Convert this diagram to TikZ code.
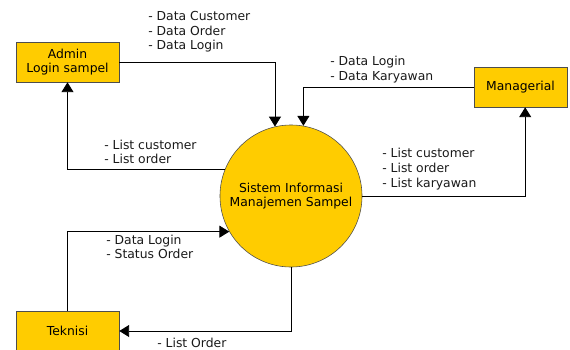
\documentclass[tikz,border=0pt]{standalone}
\usepackage{fontspec}
\setmainfont{DejaVu Sans}
\usetikzlibrary{arrows.meta}

\definecolor{procfill}{HTML}{FFCC00}
\definecolor{edgegray}{HTML}{4D4D4D}

\begin{document}
\begin{tikzpicture}[>={Triangle[width=8.5pt,length=7pt]}, x=0.025cm, y=-0.025cm,
	font=\fontsize{8.8}{10.4}\selectfont,
	entity/.style={draw=edgegray, fill=procfill, minimum width=2.575cm, minimum height=1cm, align=center, inner sep=0pt},
	proc/.style={circle, draw=edgegray, fill=procfill, minimum size=3.55cm, align=center, inner sep=0pt},
	flow/.style={->, black, semithick},
	lbl/.style={anchor=west, align=left, inner sep=0pt, text=black!90}]
		\useasboundingbox (0,0) rectangle (570,349);
		% external entities and the process
		\node[entity] (admin) at (67.5,62) {Admin\\Login sampel};
		\node[entity, minimum width=2.325cm] (mgr) at (520.5,87) {Managerial};
		\node[entity] (tek) at (67.5,331) {Teknisi};
		\node[proc] (sim) at (291,196) {Sistem Informasi\\Manajemen Sampel};
		% data flows
		\draw[flow] (admin.east) -| (sim.103);
		\draw[flow] (mgr.west) -| (sim.80);
		\draw[flow] (sim.east) -| (mgr.283);
		\draw[flow] (sim.158) -| (admin.south);
		\draw[flow] (tek.north) |- (sim.210);
		\draw[flow] (sim.south) |- (tek.east);
		% flow labels
		\node[lbl] (l1) at (148,32) {- Data Customer\\- Data Order\\- Data Login};
		\node[lbl] (l2) at (330,69.5) {- Data Login\\- Data Karyawan};
		\node[lbl] (l3) at (382,169) {- List customer\\- List order\\- List karyawan};
		\node[lbl] (l4) at (104,152) {- List customer\\- List order};
		\node[lbl] (l5) at (106,247) {- Data Login\\- Status Order};
		\node[lbl] (l6) at (157,343) {- List Order};
	\end{tikzpicture}
\end{document}
